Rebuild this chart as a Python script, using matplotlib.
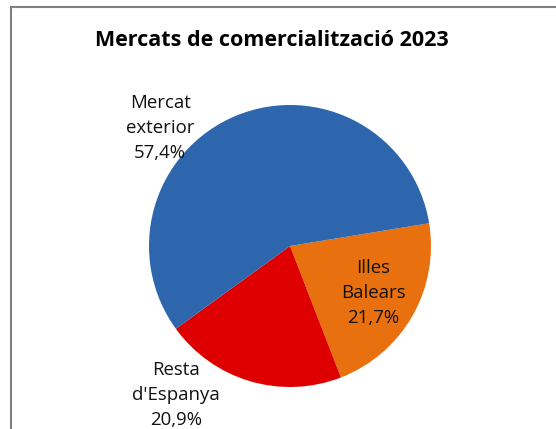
import matplotlib.pyplot as plt
from matplotlib.patches import Rectangle

# ------------------------------------------------------------
# Data
# ------------------------------------------------------------
labels = ["Illes\nBalears", "Resta\nd'Espanya", "Mercat\nexterior"]
values = [21.7, 20.9, 57.4]
colors = ["#E8700E", "#DE0000", "#2E66AE"]

# label anchor points (pie data units, radius = 1)
label_pos = [(0.59, -0.33), (-0.81, -1.06), (-0.92, 0.84)]

plt.rcParams["font.family"] = ["Open Sans", "DejaVu Sans"]

fig = plt.figure(figsize=(5.56, 4.29), dpi=100)

# chart frame (cropped on the right and bottom)
fig.patches.append(Rectangle((11 / 556, -0.1), 1.2, (429 - 7) / 429 + 0.1,
                             transform=fig.transFigure, fill=False,
                             edgecolor="#7f7f7f", linewidth=1.5))

fig.text(272 / 556, 1 - 41 / 429, "Mercats de comercialització 2023",
         ha="center", va="center", fontsize=15.5, fontweight="bold")

ax = fig.add_axes([149 / 556, 42 / 429, 282 / 556, 282 / 429])
ax.pie(values, colors=colors, startangle=9.3, counterclock=False,
       radius=1, wedgeprops=dict(linewidth=0))
ax.set_xlim(-1, 1)
ax.set_ylim(-1, 1)
ax.set_aspect("auto")
ax.axis("off")

for lab, v, (x, y) in zip(labels, values, label_pos):
    txt = f"{lab}\n{v:.1f}%".replace(".", ",")
    ax.text(x, y, txt, ha="center", va="center", fontsize=13.4,
            linespacing=1.5, color="#111111", clip_on=False)

fig.savefig("out.png", dpi=100)
